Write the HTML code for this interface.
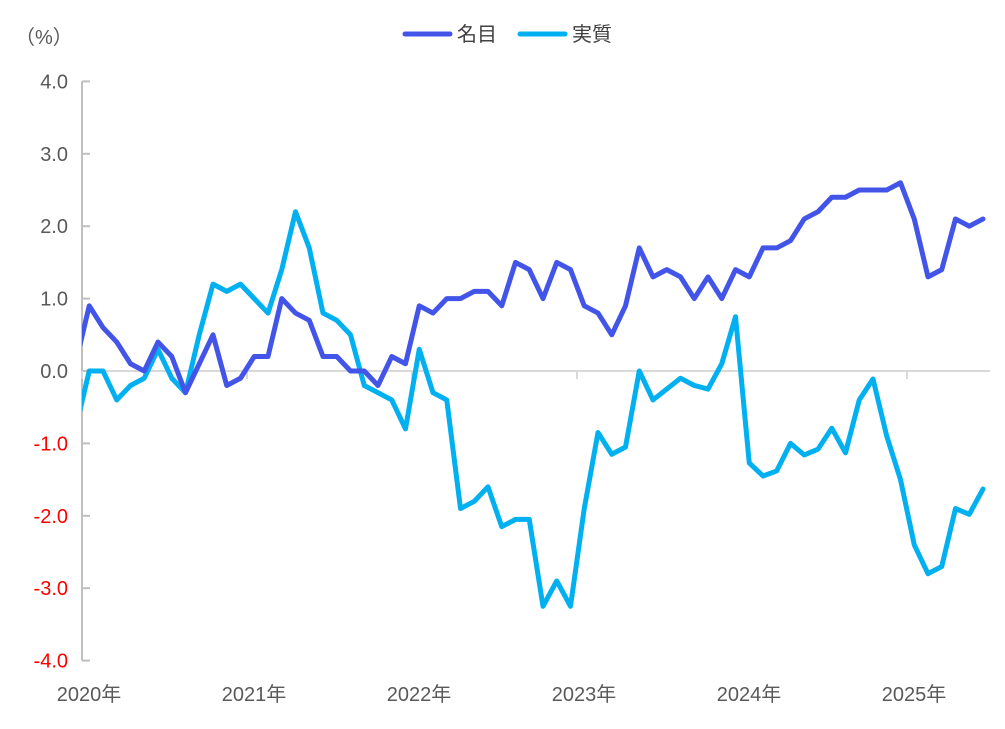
<!DOCTYPE html>
<html><head><meta charset="utf-8"><style>
body{margin:0;background:#fff;}
svg text{font-family:"Liberation Sans","Noto Sans CJK JP",sans-serif;}
</style></head><body>
<svg width="1005" height="724" viewBox="0 0 1005 724">
<defs><clipPath id="plot"><rect x="82" y="40" width="920" height="640"/></clipPath></defs>
<g id="axes"></g>
<g id="series" clip-path="url(#plot)"></g>
<text x="15" y="44" font-size="20" fill="#595959">（%）</text>
<g>
<g><line x1="405" y1="34" x2="450" y2="34" stroke="#4355E8" stroke-width="5" stroke-linecap="round"/><text x="457" y="41" font-size="20" fill="#404040">名目</text></g>
<g><line x1="520" y1="34" x2="565" y2="34" stroke="#00B0F0" stroke-width="5" stroke-linecap="round"/><text x="572" y="41" font-size="20" fill="#404040">実質</text></g>
</g>
</svg>
<script>
const yTicks=[4,3,2,1,0,-1,-2,-3,-4];
const yearLabels=["2020年","2021年","2022年","2023年","2024年","2025年"];
const nominal=[0.1,
0.9,0.6,0.4,0.1,0.0,0.4,0.2,-0.3,0.1,0.5,-0.2,-0.1,
0.2,0.2,1.0,0.8,0.7,0.2,0.2,0.0,0.0,-0.2,0.2,0.1,
0.9,0.8,1.0,1.0,1.1,1.1,0.9,1.5,1.4,1.0,1.5,1.4,
0.9,0.8,0.5,0.9,1.7,1.3,1.4,1.3,1.0,1.3,1.0,1.4,
1.3,1.7,1.7,1.8,2.1,2.2,2.4,2.4,2.5,2.5,2.5,2.6,
2.1,1.3,1.4,2.1,2.0,2.1];
const real=[-0.8,
0.0,0.0,-0.4,-0.2,-0.1,0.3,-0.1,-0.3,0.5,1.2,1.1,1.2,
1.0,0.8,1.4,2.2,1.7,0.8,0.7,0.5,-0.2,-0.3,-0.4,-0.8,
0.3,-0.3,-0.4,-1.9,-1.8,-1.6,-2.15,-2.05,-2.05,-3.25,-2.9,-3.25,
-1.9,-0.85,-1.15,-1.05,0.0,-0.4,-0.25,-0.1,-0.2,-0.25,0.1,0.75,
-1.27,-1.45,-1.38,-1.0,-1.16,-1.08,-0.79,-1.13,-0.4,-0.11,-0.9,-1.5,
-2.4,-2.8,-2.7,-1.9,-1.98,-1.63];
const NS="http://www.w3.org/2000/svg";
const X0=75.5,DX=13.75,Y0=371,DY=72.4;
const xs=i=>X0+DX*i;
const ys=v=>Y0-v*DY;
const axes=document.getElementById('axes');
const series=document.getElementById('series');
function mk(tag,attrs,parent){const e=document.createElementNS(NS,tag);for(const k in attrs)e.setAttribute(k,attrs[k]);parent.appendChild(e);return e;}
// zero line
const z=mk('line',{x1:82,y1:ys(0),x2:990,y2:ys(0),stroke:'#D9D9D9','stroke-width':2},axes);


const ya=mk('line',{x1:82,y1:ys(4),x2:82,y2:ys(-4),stroke:'#BFBFBF','stroke-width':2},axes);


yTicks.forEach(v=>{
 const t=mk('line',{x1:82,y1:ys(v),x2:90,y2:ys(v),stroke:'#BFBFBF','stroke-width':2},axes);
 
 
 const l=mk('text',{x:68,y:ys(v)+7,'text-anchor':'end','font-size':20,fill:v<0?'#FF0000':'#595959'},axes);
 l.textContent=v.toFixed(1);
 
 
});
yearLabels.forEach((s,k)=>{
 const x=82+165*k;
 const t=mk('line',{x1:x,y1:ys(0),x2:x,y2:ys(0)+8,stroke:'#D9D9D9','stroke-width':2},axes);
 
 
 const l=mk('text',{x:x+7,y:701,'text-anchor':'middle','font-size':20,fill:'#595959'},axes);
 l.textContent=s;
 
 
});
function line(arr,color,name){
 const d=arr.map((v,i)=>(i?'L':'M')+xs(i).toFixed(2)+','+ys(v).toFixed(2)).join(' ');
 const p=mk('path',{d:d,fill:'none',stroke:color,'stroke-width':5,'stroke-linejoin':'round','stroke-linecap':'round'},series);
 
 
}
line(real,'#00B0F0','real-wage-line');
line(nominal,'#4355E8','nominal-wage-line');
</script>
</body></html>
